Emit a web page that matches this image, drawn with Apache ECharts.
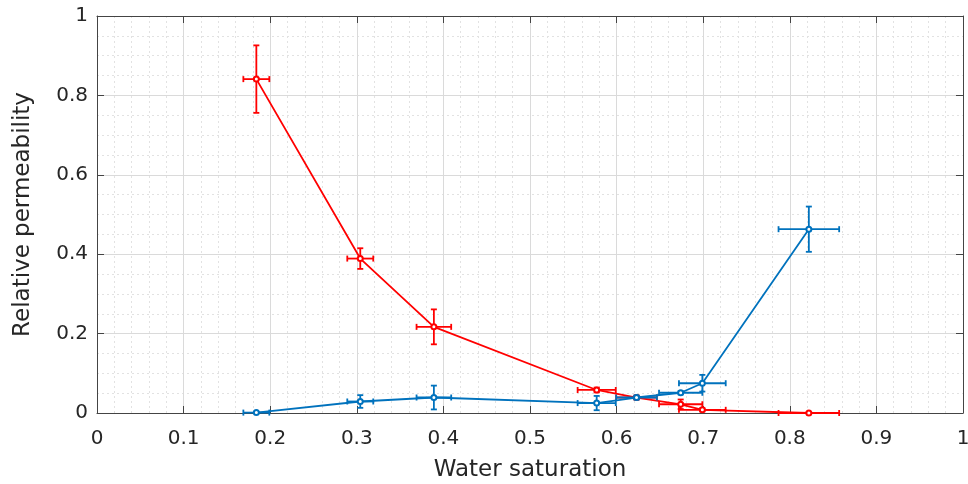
<!DOCTYPE html>
<html>
<head>
<meta charset="utf-8">
<script src="https://cdn.jsdelivr.net/npm/echarts@6/dist/echarts.min.js"></script>
<style>html,body{margin:0;padding:0;background:#fff}#c{width:968px;height:484px}</style>
</head>
<body>
<div id="c"></div>
<script>
// Data
var waterSat    = [0.184, 0.304, 0.389, 0.577, 0.623, 0.674, 0.699, 0.822];
var waterSatErr = [0.015, 0.015, 0.020, 0.022, 0.0235, 0.025, 0.027, 0.035];
var kro         = [0.841, 0.389, 0.217, 0.058, 0.039, 0.022, 0.008, 0.000];
var kroErr      = [0.085, 0.026, 0.044, 0.006, 0.005, 0.012, 0.004, 0.002];
var krw         = [0.001, 0.029, 0.039, 0.025, 0.039, 0.051, 0.075, 0.463];
var krwErr      = [0.002, 0.016, 0.030, 0.018, 0.005, 0.004, 0.021, 0.057];
var xTickLabels = ['0','0.1','0.2','0.3','0.4','0.5','0.6','0.7','0.8','0.9','1'];
var yTickLabels = ['0','0.2','0.4','0.6','0.8','1'];
var xName = 'Water saturation';
var yName = 'Relative permeability';

var RED = '#FF0000', BLUE = '#0072BD', TXT = '#262626', BOX = '#444';
var FONT = 'DejaVu Sans, Liberation Sans, Arial, sans-serif';

function pts(xs, ys) { return xs.map(function (x, i) { return [x, ys[i]]; }); }
function errData(xs, xe, ys, ye) { return xs.map(function (x, i) { return [x, ys[i], xe[i], ye[i]]; }); }

function errRender(color) {
  return function (params, api) {
    var x = api.value(0), y = api.value(1), dx = api.value(2), dy = api.value(3);
    var c = api.coord([x, y]);
    var l = api.coord([x - dx, y]), r = api.coord([x + dx, y]);
    var t = api.coord([x, y + dy]), b = api.coord([x, y - dy]);
    var cap = 3;
    var st = { stroke: color, lineWidth: 1.8 };
    function ln(x1, y1, x2, y2) { return { type: 'line', shape: { x1: x1, y1: y1, x2: x2, y2: y2 }, style: st }; }
    return {
      type: 'group',
      children: [
        ln(l[0], c[1], r[0], c[1]),
        ln(l[0], c[1] - cap, l[0], c[1] + cap),
        ln(r[0], c[1] - cap, r[0], c[1] + cap),
        ln(c[0], t[1], c[0], b[1]),
        ln(c[0] - cap, t[1], c[0] + cap, t[1]),
        ln(c[0] - cap, b[1], c[0] + cap, b[1])
      ]
    };
  };
}

function boxLine() { return { show: true, onZero: false, lineStyle: { color: BOX, width: 1 } }; }
function tickIn() { return { show: true, inside: true, length: 7, lineStyle: { color: BOX } }; }
function majorGrid() { return { show: true, lineStyle: { color: '#dadada', width: 1 } }; }
function minorGrid() { return { show: true, lineStyle: { color: '#e2e2e2', width: 1, type: [2, 3] } }; }

var chart = echarts.init(document.getElementById('c'), null, { renderer: 'canvas' });
chart.setOption({
  animation: false,
  backgroundColor: '#fff',
  grid: { left: 97, right: 5, top: 16, bottom: 71, show: false, containLabel: false, outerBoundsMode: 'none' },
  xAxis: [
    {
      type: 'value', min: 0, max: 1, interval: 0.1, position: 'bottom',
      axisLine: boxLine(), axisTick: tickIn(),
      minorTick: { show: false, splitNumber: 5 },
      splitLine: majorGrid(), minorSplitLine: minorGrid(),
      name: xName, nameLocation: 'middle', nameGap: 46,
      nameTextStyle: { color: TXT, fontSize: 23, fontFamily: FONT },
      axisLabel: { color: TXT, fontSize: 20, fontFamily: FONT, margin: 16,
        formatter: function (v) { return xTickLabels[Math.round(v * 10)]; } }
    },
    {
      type: 'value', min: 0, max: 1, interval: 0.1, position: 'top',
      axisLine: boxLine(), axisTick: tickIn(),
      axisLabel: { show: false }, splitLine: { show: false }, minorSplitLine: { show: false }
    }
  ],
  yAxis: [
    {
      type: 'value', min: 0, max: 1, interval: 0.2, position: 'left',
      axisLine: boxLine(), axisTick: tickIn(),
      minorTick: { show: false, splitNumber: 4 },
      splitLine: majorGrid(), minorSplitLine: minorGrid(),
      name: yName, nameLocation: 'middle', nameGap: 62,
      nameTextStyle: { color: TXT, fontSize: 23, fontFamily: FONT },
      axisLabel: { color: TXT, fontSize: 20, fontFamily: FONT, margin: 9,
        formatter: function (v) { return yTickLabels[Math.round(v * 5)]; } }
    },
    {
      type: 'value', min: 0, max: 1, interval: 0.2, position: 'right',
      axisLine: boxLine(), axisTick: tickIn(),
      axisLabel: { show: false }, splitLine: { show: false }, minorSplitLine: { show: false }
    }
  ],
  series: [
    {
      type: 'line', data: pts(waterSat, kro),
      symbol: 'emptyCircle', symbolSize: 5,
      lineStyle: { color: RED, width: 1.8 },
      itemStyle: { color: RED, borderColor: RED, borderWidth: 2.5 },
      z: 3
    },
    {
      type: 'custom', data: errData(waterSat, waterSatErr, kro, kroErr),
      renderItem: errRender(RED), encode: { x: 0, y: 1 }, z: 3
    },
    {
      type: 'line', data: pts(waterSat, krw),
      symbol: 'emptyCircle', symbolSize: 5,
      lineStyle: { color: BLUE, width: 1.8 },
      itemStyle: { color: BLUE, borderColor: BLUE, borderWidth: 2.5 },
      z: 4
    },
    {
      type: 'custom', data: errData(waterSat, waterSatErr, krw, krwErr),
      renderItem: errRender(BLUE), encode: { x: 0, y: 1 }, z: 4
    }
  ]
});
</script>
</body>
</html>
